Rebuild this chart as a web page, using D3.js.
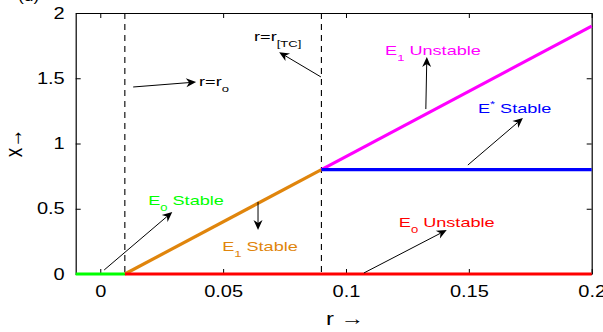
<!DOCTYPE html>
<html>
<head>
<meta charset="utf-8">
<script src="https://cdn.jsdelivr.net/npm/d3@7"></script>
<style>
  html, body { margin: 0; padding: 0; background: #fff; }
  svg { display: block; font-family: "Liberation Sans", Arial, Helvetica, sans-serif; }
</style>
</head>
<body>
<svg id="chart" width="603" height="332"></svg>
<script>
// Equilibrium branches of the bifurcation diagram (r on the horizontal axis, x vertical)
const e0StableR = [-0.01, 0.01];
const e0StableX = [0, 0];
const e0UnstableR = [0.01, 0.2];
const e0UnstableX = [0, 0];
const e1StableR = [0.01, 0.09];
const e1StableX = [0, 0.8];
const e1UnstableR = [0.09, 0.2];
const e1UnstableX = [0.8, 1.9];
const eStarStableR = [0.09, 0.2];
const eStarStableX = [0.8, 0.8];

// Critical values of r: r_o and r_[TC]
const thresholdR = [0.01, 0.09];

const rTicks = [0, 0.05, 0.1, 0.15, 0.2];
const xTicks = [0, 0.5, 1, 1.5, 2];

// Text annotations: label anchor, arrow tail and arrow tip in data units
const noteLabels = ["r=r|o", "r=r|[TC]", "E|1| Unstable", "E|*| Stable", "E|0| Stable", "E|1| Stable", "E|0| Unstable"];
const noteTextR = [0.0402, 0.0626, 0.1159, 0.1537, 0.0195, 0.0496, 0.1215];
const noteTextX = [1.44, 1.785, 1.678, 1.234, 0.529, 0.176, 0.36];
const arrowFromR = [0.0134, 0.0898, 0.1325, 0.1496, 0.0016, 0.0642, 0.1073];
const arrowFromX = [1.433, 1.51, 1.264, 0.835, 0.031, 0.552, 0.008];
const arrowToR = [0.039, 0.0728, 0.1329, 0.172, 0.0293, 0.0642, 0.141];
const arrowToX = [1.471, 1.70, 1.663, 1.195, 0.475, 0.337, 0.337];

const W = 603, H = 332;
const margin = { top: 13, right: 11.3, bottom: 58, left: 75.7 };
const SX = 1.25;      // horizontal stretch of axis text
const SXN = 1.45;     // horizontal stretch of annotation text

const svg = d3.select("#chart");
const x = d3.scaleLinear().domain([-0.01, 0.2]).range([margin.left, W - margin.right]);
const y = d3.scaleLinear().domain([0, 2]).range([H - margin.bottom, margin.top]);

const fmt = d => String(d);

// Axes with inward ticks on all four sides
const gB = svg.append("g").attr("transform", `translate(0,${y(0)})`)
  .call(d3.axisBottom(x).tickValues(rTicks).tickFormat(fmt).tickSizeInner(-5).tickSizeOuter(0).tickPadding(12));
const gL = svg.append("g").attr("transform", `translate(${x(-0.01)},0)`)
  .call(d3.axisLeft(y).tickValues(xTicks).tickFormat(fmt).tickSizeInner(-5).tickSizeOuter(0).tickPadding(11));
const gT = svg.append("g").attr("transform", `translate(0,${y(2)})`)
  .call(d3.axisTop(x).tickValues(rTicks).tickFormat("").tickSizeInner(-5).tickSizeOuter(0));
const gR = svg.append("g").attr("transform", `translate(${x(0.2)},0)`)
  .call(d3.axisRight(y).tickValues(xTicks).tickFormat("").tickSizeInner(-5).tickSizeOuter(0));

[gB, gL, gT, gR].forEach(g => {
  g.selectAll("path.domain").attr("stroke", "#000").attr("stroke-width", 1.2);
  g.selectAll(".tick line").attr("stroke", "#000").attr("stroke-width", 1);
});
gB.selectAll(".tick text").attr("font-size", 16).attr("fill", "#000")
  .attr("font-family", "Liberation Sans, Arial, sans-serif")
  .attr("transform", `scale(${SX},1)`);
gL.selectAll(".tick text").attr("font-size", 16).attr("fill", "#000")
  .attr("font-family", "Liberation Sans, Arial, sans-serif")
  .attr("x", -11 / SX).attr("transform", `scale(${SX},1)`);

// Dashed threshold lines
svg.append("g").selectAll("line").data(thresholdR).join("line")
  .attr("x1", d => x(d)).attr("x2", d => x(d))
  .attr("y1", y(2)).attr("y2", y(0))
  .attr("stroke", "#000").attr("stroke-width", 1.1)
  .attr("stroke-dasharray", "6,5");

// Equilibrium branches
const branches = [
  { r: e1StableR, v: e1StableX, color: "#e0850c" },
  { r: e1UnstableR, v: e1UnstableX, color: "#ff00ff" },
  { r: eStarStableR, v: eStarStableX, color: "#0000ff" },
  { r: e0UnstableR, v: e0UnstableX, color: "#ff0000" },
  { r: e0StableR, v: e0StableX, color: "#00ff00" }
];
const line = d3.line().x(d => x(d[0])).y(d => y(d[1]));
svg.append("g").selectAll("path").data(branches).join("path")
  .attr("d", b => line(b.r.map((rv, i) => [rv, b.v[i]])))
  .attr("fill", "none").attr("stroke", b => b.color).attr("stroke-width", 3.2)
  .attr("stroke-linecap", "butt");

// Annotation arrows with notched heads
const arrows = svg.append("g");
arrowFromR.forEach((_, i) => {
  const x0 = x(arrowFromR[i]), y0 = y(arrowFromX[i]);
  const x1 = x(arrowToR[i]), y1 = y(arrowToX[i]);
  const a = Math.atan2(y1 - y0, x1 - x0);
  const len = 10, half = 4.5, notch = 7;
  const ux = Math.cos(a), uy = Math.sin(a);
  const px = -uy, py = ux;
  const bx = x1 - ux * len, by = y1 - uy * len;
  const nx = x1 - ux * notch, ny = y1 - uy * notch;
  arrows.append("line")
    .attr("x1", x0).attr("y1", y0).attr("x2", nx).attr("y2", ny)
    .attr("stroke", "#000").attr("stroke-width", 1);
  arrows.append("path")
    .attr("d", `M${x1},${y1}L${bx + px * half},${by + py * half}L${nx},${ny}L${bx - px * half},${by - py * half}Z`)
    .attr("fill", "#000");
});

// Annotation texts: "main|sub|rest", a single "|" means main|sub
const noteColors = ["#000", "#000", "#ff00ff", "#0000ff", "#00ff00", "#e0850c", "#ff0000"];
noteLabels.forEach((lab, i) => {
  const parts = lab.split("|");
  const g = svg.append("g")
    .attr("transform", `translate(${x(noteTextR[i])},${y(noteTextX[i])}) scale(${SXN},1)`);
  const t = g.append("text").attr("font-size", 12.5).attr("fill", noteColors[i]);
  t.append("tspan").text(parts[0]);
  const isSuper = parts[1] === "*";
  t.append("tspan").attr("font-size", 9)
    .attr("dy", isSuper ? -6 : 6).text(parts[1]);
  if (parts[2] !== undefined) {
    t.append("tspan").attr("dy", isSuper ? 6 : -6).text(parts[2]);
  }
});

// Axis titles
svg.append("text")
  .attr("transform", `translate(345,325) scale(${SX},1)`)
  .attr("text-anchor", "middle").attr("font-size", 19).attr("fill", "#000")
  .text("r  \u2192");
svg.append("text")
  .attr("transform", `translate(22,143) scale(${SX},1) rotate(-90)`)
  .attr("text-anchor", "middle").attr("font-size", 19).attr("fill", "#000")
  .text("x\u2192");

// Panel tag at the top-left edge
svg.append("text")
  .attr("transform", `translate(18,1) scale(${SX},1)`)
  .attr("font-size", 14).attr("fill", "#000")
  .text("(d)");
</script>
</body>
</html>
